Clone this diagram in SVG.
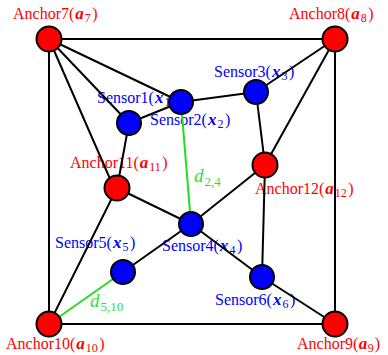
<svg xmlns="http://www.w3.org/2000/svg" width="388" height="355" viewBox="0 0 388 355">
<style>
text{font-family:"Liberation Serif","Times New Roman",serif;font-size:16px}
.a{fill:#ff0000}
.s{fill:#0000ff}
.g{fill:#33dd33}
.m{font-weight:bold;font-style:italic;font-size:17px}
.d{font-style:italic;font-size:19px}
.sub{font-size:12px}
.gsub{font-size:13px}
.e{stroke:#000;stroke-width:2;fill:none}
.ge{stroke:#22dd22;stroke-width:2;fill:none}
.an{fill:#ff0000;stroke:#000;stroke-width:2}
.sn{fill:#0000ff;stroke:#000;stroke-width:2}
</style>
<g id="labels">
<text class="a" x="13" y="19">Anchor7(<tspan class="m" dx="1">a</tspan><tspan class="sub" dx="1" dy="3">7</tspan><tspan dx="1.5" dy="-3">)</tspan></text>
<text class="a" x="289" y="19">Anchor8(<tspan class="m" dx="1">a</tspan><tspan class="sub" dx="1" dy="3">8</tspan><tspan dx="1.5" dy="-3">)</tspan></text>
<text class="s" x="214" y="77">Sensor3(<tspan class="m" dx="1">x</tspan><tspan class="sub" dx="1" dy="3">3</tspan><tspan dx="1.5" dy="-3">)</tspan></text>
<text class="s" x="97" y="103">Sensor1(<tspan class="m" dx="1">x</tspan><tspan class="sub" dx="1" dy="3">1</tspan><tspan dx="1.5" dy="-3">)</tspan></text>
<text class="s" x="150" y="125">Sensor2(<tspan class="m" dx="1">x</tspan><tspan class="sub" dx="1" dy="3">2</tspan><tspan dx="1.5" dy="-3">)</tspan></text>
<text class="a" x="70" y="168">Anchor11(<tspan class="m" dx="1">a</tspan><tspan class="sub" dx="1" dy="3">11</tspan><tspan dx="1.5" dy="-3">)</tspan></text>
<text class="g" x="194" y="182"><tspan class="d">d</tspan><tspan class="gsub" dx="1" dy="4">2,4</tspan></text>
<text class="a" x="255" y="194">Anchor12(<tspan class="m" dx="1">a</tspan><tspan class="sub" dx="1" dy="3">12</tspan><tspan dx="1.5" dy="-3">)</tspan></text>
<text class="s" x="55" y="248">Sensor5(<tspan class="m" dx="1">x</tspan><tspan class="sub" dx="1" dy="3">5</tspan><tspan dx="1.5" dy="-3">)</tspan></text>
<text class="s" x="162" y="251">Sensor4(<tspan class="m" dx="1">x</tspan><tspan class="sub" dx="1" dy="3">4</tspan><tspan dx="1.5" dy="-3">)</tspan></text>
<text class="g" x="90" y="307"><tspan class="d">d</tspan><tspan class="gsub" dx="1" dy="4">5,10</tspan></text>
<text class="s" x="215" y="305">Sensor6(<tspan class="m" dx="1">x</tspan><tspan class="sub" dx="1" dy="3">6</tspan><tspan dx="1.5" dy="-3">)</tspan></text>
<text class="a" x="6" y="349">Anchor10(<tspan class="m" dx="1">a</tspan><tspan class="sub" dx="1" dy="3">10</tspan><tspan dx="1.5" dy="-3">)</tspan></text>
<text class="a" x="297" y="349">Anchor9(<tspan class="m" dx="0.5">a</tspan><tspan class="sub" dx="0.5" dy="3">9</tspan><tspan dx="1" dy="-3">)</tspan></text>
</g>
<g id="connectors">
<rect class="e" x="49" y="39" width="286" height="285"/>
<line class="e" x1="49" y1="39" x2="181" y2="102"/>
<line class="e" x1="49" y1="39" x2="129" y2="123"/>
<line class="e" x1="49" y1="39" x2="114" y2="188"/>
<line class="e" x1="129" y1="123" x2="181" y2="102"/>
<line class="e" x1="181" y1="102" x2="256" y2="92"/>
<line class="e" x1="256" y1="92" x2="335" y2="39"/>
<line class="e" x1="256" y1="92" x2="265" y2="165"/>
<line class="e" x1="335" y1="39" x2="265" y2="165"/>
<line class="e" x1="129" y1="123" x2="117" y2="188"/>
<line class="e" x1="117" y1="188" x2="191" y2="224"/>
<line class="e" x1="265" y1="165" x2="191" y2="224"/>
<line class="e" x1="117" y1="188" x2="49" y2="324"/>
<line class="e" x1="191" y1="224" x2="123" y2="272"/>
<line class="e" x1="191" y1="224" x2="262" y2="277"/>
<line class="e" x1="262" y1="277" x2="335" y2="324"/>
<line class="e" x1="265" y1="165" x2="262" y2="277"/>
<line class="ge" x1="181" y1="102" x2="191" y2="224"/>
<line class="ge" x1="123" y1="272" x2="49" y2="324"/>
</g>
<g id="anchor7"><circle class="an" cx="49" cy="39" r="12.5"/></g>
<g id="anchor8"><circle class="an" cx="335" cy="39" r="12.5"/></g>
<g id="anchor9"><circle class="an" cx="335" cy="324" r="12.5"/></g>
<g id="anchor10"><circle class="an" cx="49" cy="324" r="12.5"/></g>
<g id="anchor11"><circle class="an" cx="117" cy="188" r="12.5"/></g>
<g id="anchor12"><circle class="an" cx="265" cy="165" r="12.5"/></g>
<g id="sensor1"><circle class="sn" cx="129" cy="123" r="12"/></g>
<g id="sensor2"><circle class="sn" cx="181" cy="102" r="12"/></g>
<g id="sensor3"><circle class="sn" cx="256" cy="92" r="12"/></g>
<g id="sensor4"><circle class="sn" cx="191" cy="224" r="12"/></g>
<g id="sensor5"><circle class="sn" cx="123" cy="272" r="12"/></g>
<g id="sensor6"><circle class="sn" cx="262" cy="277" r="12"/></g>
</svg>
